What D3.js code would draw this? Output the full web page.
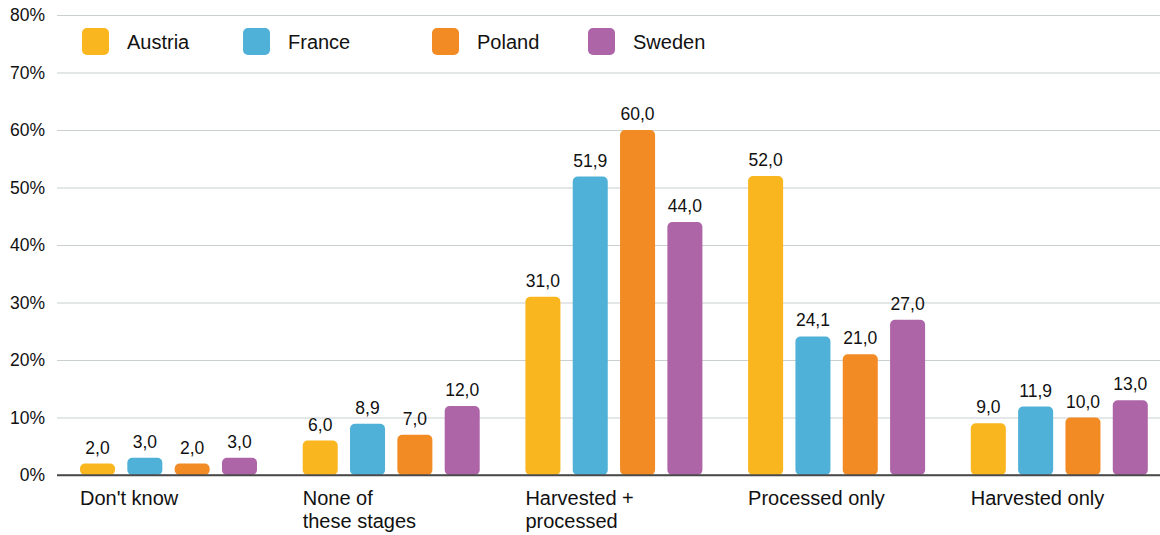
<!DOCTYPE html>
<html>
<head>
<meta charset="utf-8">
<script src="https://cdn.jsdelivr.net/npm/d3@7/dist/d3.min.js"></script>
<style>
  html, body { margin: 0; padding: 0; background: #fff; }
  svg { display: block; font-family: "Liberation Sans", Arial, sans-serif; }
</style>
</head>
<body>
<svg id="chart" width="1160" height="535"></svg>
<script>
// Stages of the value chain covered, share of respondents (%) per country
const categories = ["Don't know", "None of\nthese stages", "Harvested +\nprocessed", "Processed only", "Harvested only"];
const countries = ["Austria", "France", "Poland", "Sweden"];
const austria = [2.0, 6.0, 31.0, 52.0, 9.0];
const france  = [3.0, 8.9, 51.9, 24.1, 11.9];
const poland  = [2.0, 7.0, 60.0, 21.0, 10.0];
const sweden  = [3.0, 12.0, 44.0, 27.0, 13.0];
const yTicks = [0, 10, 20, 30, 40, 50, 60, 70, 80];

const colors = ["#F9B61E", "#4FB1D7", "#F28B23", "#AE65A8"];
const seriesValues = [austria, france, poland, sweden];

const svg = d3.select("#chart");
const W = 1160, H = 535;
const plotLeft = 57, plotBase = 475, plotTop = 15;

const y = d3.scaleLinear().domain([0, 80]).range([plotBase, plotTop]);

const x0 = d3.scaleBand().domain(categories).range([plotLeft, plotLeft + 5 * 222.7]).padding(0);
const x1 = d3.scaleBand().domain(countries).range([23, 200]).paddingInner(0.26).paddingOuter(0);

const commaFmt = d3.formatLocale({ decimal: ",", thousands: ".", grouping: [3], currency: ["", ""] }).format(".1f");

// Gridlines and y labels
const yAxis = d3.axisLeft(y).tickValues(yTicks).tickSize(-(W - plotLeft)).tickFormat(d => d + "%").tickPadding(12);
const gy = svg.append("g").attr("transform", `translate(${plotLeft},0)`).call(yAxis);
gy.select(".domain").remove();
gy.selectAll(".tick line").attr("stroke", d => d === 0 ? "#4a4a4a" : "#c9d0cf").attr("stroke-width", d => d === 0 ? 1.6 : 1.2);
gy.selectAll(".tick text").attr("font-size", 17.5).attr("fill", "#111");

// Bars
const groups = svg.append("g").selectAll("g").data(categories).join("g")
  .attr("transform", d => `translate(${x0(d)},0)`);

groups.each(function (cat, ci) {
  const g = d3.select(this);
  const rows = countries.map((c, si) => ({ c, si, v: seriesValues[si][ci] }));
  g.selectAll("rect").data(rows).join("rect")
    .attr("x", d => x1(d.c))
    .attr("y", d => y(d.v))
    .attr("width", x1.bandwidth())
    .attr("height", d => plotBase - y(d.v))
    .attr("rx", 5).attr("ry", 5)
    .attr("fill", d => colors[d.si]);
  g.selectAll("text.val").data(rows).join("text")
    .attr("class", "val")
    .attr("x", d => x1(d.c) + x1.bandwidth() / 2)
    .attr("y", d => y(d.v) - 10)
    .attr("text-anchor", "middle")
    .attr("font-size", 17.5)
    .attr("fill", "#111")
    .text(d => commaFmt(d.v));
});

// Baseline drawn over the bars
svg.append("line").attr("x1", plotLeft).attr("x2", W).attr("y1", plotBase).attr("y2", plotBase)
  .attr("stroke", "#4a4a4a").attr("stroke-width", 1.6);

// Category labels, left-aligned under the first bar
const xl = svg.append("g");
categories.forEach(cat => {
  const t = xl.append("text")
    .attr("x", x0(cat) + x1(countries[0]))
    .attr("y", 505)
    .attr("font-size", 20)
    .attr("fill", "#111");
  cat.split("\n").forEach((line, i) => {
    t.append("tspan").attr("x", x0(cat) + x1(countries[0])).attr("dy", i === 0 ? 0 : 23).text(line);
  });
});

// Legend
const legendX = [82, 243, 432, 588];
const lg = svg.append("g");
countries.forEach((c, i) => {
  lg.append("rect").attr("x", legendX[i]).attr("y", 28).attr("width", 27).attr("height", 27)
    .attr("rx", 5).attr("ry", 5).attr("fill", colors[i]);
  lg.append("text").attr("x", legendX[i] + 45).attr("y", 49).attr("font-size", 20).attr("fill", "#111").text(c);
});
</script>
</body>
</html>
